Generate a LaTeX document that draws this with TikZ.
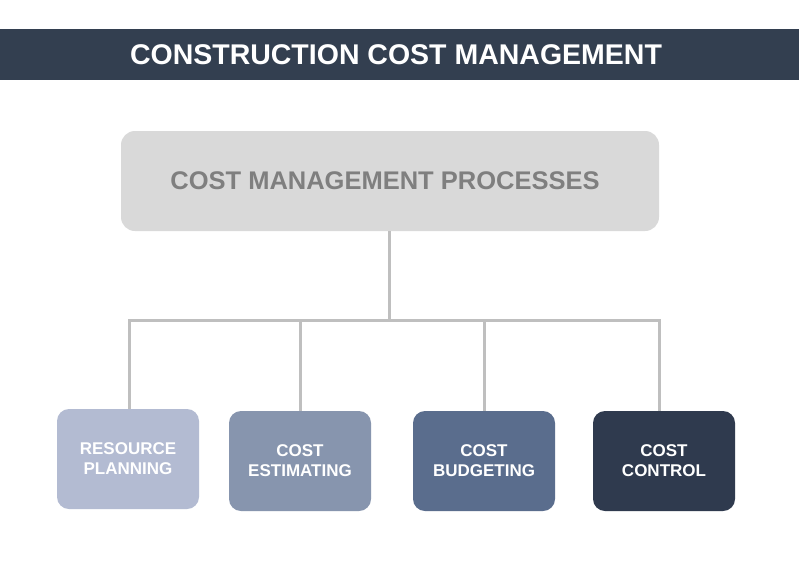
\documentclass[tikz,border=0pt]{standalone}
\usepackage{fontspec}
\setmainfont{Liberation Sans}
\definecolor{titlebg}{HTML}{333F50}
\definecolor{topfill}{HTML}{D9D9D9}
\definecolor{toptext}{HTML}{7F7F7F}
\definecolor{linegray}{HTML}{BFBFBF}
\definecolor{c1}{HTML}{B3BBD2}
\definecolor{c2}{HTML}{8795AE}
\definecolor{c3}{HTML}{5A6D8D}
\definecolor{c4}{HTML}{2F3A4E}
\tikzset{
  leaf/.style={rounded corners=12pt, minimum width=142pt, minimum height=100pt, text=white, font=\bfseries\fontsize{17}{20}\selectfont, align=center, inner sep=0pt},
  conn/.style={draw=linegray, line width=3pt}
}
\begin{document}
\begin{tikzpicture}[x=1pt,y=-1pt]
\useasboundingbox[fill=white] (0,0) rectangle (799,583);
\fill[titlebg] (0,29) rectangle (799,80);
\node[text=white, font=\bfseries\fontsize{28.5}{32}\selectfont, inner sep=0pt] (title) at (396,55) {CONSTRUCTION COST MANAGEMENT};
\node[fill=topfill, rounded corners=14pt, minimum width=538pt, minimum height=100pt, inner sep=0pt] (top) at (390,181) {};
\node[text=toptext, font=\bfseries\fontsize{25.5}{30}\selectfont, inner sep=0pt] (toplabel) at (385,181) {COST MANAGEMENT PROCESSES};
\node[leaf, fill=c1] (b1) at (128,459) {RESOURCE\\PLANNING};
\node[leaf, fill=c2] (b2) at (300,461) {COST\\ESTIMATING};
\node[leaf, fill=c3] (b3) at (484,461) {COST\\BUDGETING};
\node[leaf, fill=c4] (b4) at (664,461) {COST\\CONTROL};
\coordinate (hub) at (389,320);
\coordinate (l) at (129,320);
\coordinate (r) at (659,320);
\draw[conn] (top.south -| hub) -- (hub);
\draw[conn, line cap=rect] (l) -- (r);
\draw[conn] (l) -- (l |- b1.north);
\draw[conn] (b2.north |- hub) -- (b2.north);
\draw[conn] (b3.north |- hub) -- (b3.north);
\draw[conn] (r) -- (r |- b4.north);
\end{tikzpicture}
\end{document}
